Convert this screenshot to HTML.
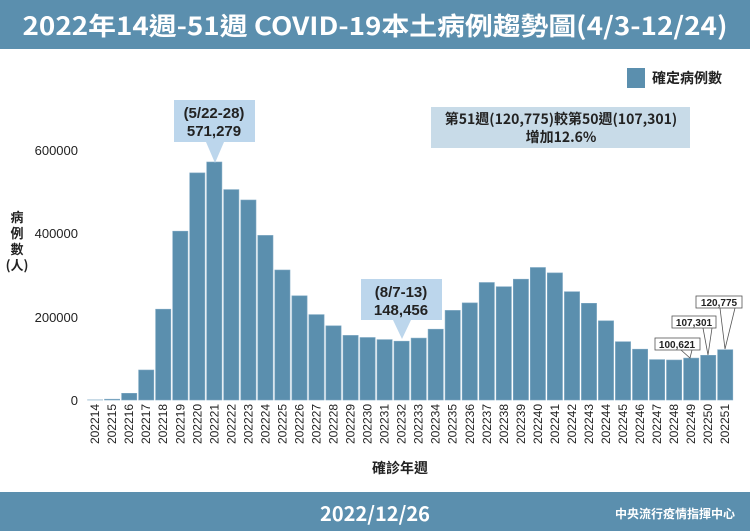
<!DOCTYPE html>
<html><head><meta charset="utf-8"><style>
html,body{margin:0;padding:0;background:#fff;}
svg{display:block;font-family:"Liberation Sans","Noto Sans CJK TC",sans-serif;}
</style></head><body>
<svg width="750" height="531" viewBox="0 0 750 531" xmlns="http://www.w3.org/2000/svg">
<rect x="0" y="0" width="750" height="49" fill="#5b8fae"/>
<text x="375" y="35" text-anchor="middle" font-size="25" font-weight="bold" fill="#fff" font-family="'Noto Sans CJK TC',sans-serif" textLength="705" lengthAdjust="spacingAndGlyphs">2022年14週-51週 COVID-19本土病例趨勢圖(4/3-12/24)</text>
<rect x="0" y="492" width="750" height="39" fill="#5b8fae"/>
<text x="375" y="521" text-anchor="middle" font-size="20" font-weight="bold" fill="#fff" font-family="'Noto Sans CJK TC',sans-serif">2022/12/26</text>
<text x="735" y="518" text-anchor="end" font-size="12" font-weight="bold" fill="#fff" font-family="'Noto Sans CJK TC',sans-serif">中央流行疫情指揮中心</text>
<rect x="627" y="68" width="18" height="20" fill="#5b8fae"/>
<text x="652" y="83" font-size="14" font-weight="bold" fill="#222" font-family="'Noto Sans CJK TC',sans-serif">確定病例數</text>
<g font-size="13" fill="#222" text-anchor="end">
<text x="78" y="155">600000</text><text x="78" y="238">400000</text><text x="78" y="322">200000</text><text x="78" y="405">0</text>
</g>
<g font-size="13" font-weight="bold" fill="#222" font-family="'Noto Sans CJK TC',sans-serif" text-anchor="middle">
<text x="17" y="222">病</text><text x="17" y="238">例</text><text x="17" y="254">數</text><text x="17" y="270">(人)</text>
<text x="400" y="473" font-size="14">確診年週</text>
</g>
<g fill="#5b8fae" stroke="#7fa9c4" stroke-width="0.6">
<rect x="87.5" y="399.9" width="15.2" height="0.1"/>
<rect x="104.5" y="399.2" width="15.2" height="0.8"/>
<rect x="121.6" y="393.3" width="15.2" height="6.7"/>
<rect x="138.6" y="370" width="15.2" height="30"/>
<rect x="155.6" y="309.2" width="15.2" height="90.8"/>
<rect x="172.7" y="231.2" width="15.2" height="168.8"/>
<rect x="189.7" y="172.9" width="15.2" height="227.1"/>
<rect x="206.7" y="162" width="15.2" height="238"/>
<rect x="223.7" y="189.6" width="15.2" height="210.4"/>
<rect x="240.8" y="200" width="15.2" height="200"/>
<rect x="257.8" y="235.4" width="15.2" height="164.6"/>
<rect x="274.8" y="270" width="15.2" height="130"/>
<rect x="291.9" y="295.8" width="15.2" height="104.2"/>
<rect x="308.9" y="314.6" width="15.2" height="85.4"/>
<rect x="325.9" y="325.8" width="15.2" height="74.2"/>
<rect x="343" y="335.4" width="15.2" height="64.6"/>
<rect x="360" y="337.5" width="15.2" height="62.5"/>
<rect x="377" y="339.6" width="15.2" height="60.4"/>
<rect x="394" y="341.2" width="15.2" height="58.8"/>
<rect x="411.1" y="338.1" width="15.2" height="61.9"/>
<rect x="428.1" y="329.2" width="15.2" height="70.8"/>
<rect x="445.1" y="310.4" width="15.2" height="89.6"/>
<rect x="462.2" y="302.9" width="15.2" height="97.1"/>
<rect x="479.2" y="282.5" width="15.2" height="117.5"/>
<rect x="496.2" y="286.7" width="15.2" height="113.3"/>
<rect x="513.3" y="279.2" width="15.2" height="120.8"/>
<rect x="530.3" y="267.5" width="15.2" height="132.5"/>
<rect x="547.3" y="272.9" width="15.2" height="127.1"/>
<rect x="564.4" y="291.7" width="15.2" height="108.3"/>
<rect x="581.4" y="303.3" width="15.2" height="96.7"/>
<rect x="598.4" y="320.8" width="15.2" height="79.2"/>
<rect x="615.4" y="341.7" width="15.2" height="58.3"/>
<rect x="632.5" y="349.2" width="15.2" height="50.8"/>
<rect x="649.5" y="359.6" width="15.2" height="40.4"/>
<rect x="666.5" y="360" width="15.2" height="40"/>
<rect x="683.6" y="358.1" width="15.2" height="41.9"/>
<rect x="700.6" y="355.3" width="15.2" height="44.7"/>
<rect x="717.6" y="349.7" width="15.2" height="50.3"/>
</g>
<g font-size="12" fill="#222" text-anchor="end">
<text transform="translate(99.1,404) rotate(-90)">202214</text>
<text transform="translate(116.1,404) rotate(-90)">202215</text>
<text transform="translate(133.2,404) rotate(-90)">202216</text>
<text transform="translate(150.2,404) rotate(-90)">202217</text>
<text transform="translate(167.2,404) rotate(-90)">202218</text>
<text transform="translate(184.3,404) rotate(-90)">202219</text>
<text transform="translate(201.3,404) rotate(-90)">202220</text>
<text transform="translate(218.3,404) rotate(-90)">202221</text>
<text transform="translate(235.3,404) rotate(-90)">202222</text>
<text transform="translate(252.4,404) rotate(-90)">202223</text>
<text transform="translate(269.4,404) rotate(-90)">202224</text>
<text transform="translate(286.4,404) rotate(-90)">202225</text>
<text transform="translate(303.5,404) rotate(-90)">202226</text>
<text transform="translate(320.5,404) rotate(-90)">202227</text>
<text transform="translate(337.5,404) rotate(-90)">202228</text>
<text transform="translate(354.6,404) rotate(-90)">202229</text>
<text transform="translate(371.6,404) rotate(-90)">202230</text>
<text transform="translate(388.6,404) rotate(-90)">202231</text>
<text transform="translate(405.6,404) rotate(-90)">202232</text>
<text transform="translate(422.7,404) rotate(-90)">202233</text>
<text transform="translate(439.7,404) rotate(-90)">202234</text>
<text transform="translate(456.7,404) rotate(-90)">202235</text>
<text transform="translate(473.8,404) rotate(-90)">202236</text>
<text transform="translate(490.8,404) rotate(-90)">202237</text>
<text transform="translate(507.8,404) rotate(-90)">202238</text>
<text transform="translate(524.9,404) rotate(-90)">202239</text>
<text transform="translate(541.9,404) rotate(-90)">202240</text>
<text transform="translate(558.9,404) rotate(-90)">202241</text>
<text transform="translate(576,404) rotate(-90)">202242</text>
<text transform="translate(593,404) rotate(-90)">202243</text>
<text transform="translate(610,404) rotate(-90)">202244</text>
<text transform="translate(627,404) rotate(-90)">202245</text>
<text transform="translate(644.1,404) rotate(-90)">202246</text>
<text transform="translate(661.1,404) rotate(-90)">202247</text>
<text transform="translate(678.1,404) rotate(-90)">202248</text>
<text transform="translate(695.2,404) rotate(-90)">202249</text>
<text transform="translate(712.2,404) rotate(-90)">202250</text>
<text transform="translate(729.2,404) rotate(-90)">202251</text>
</g>
<path d="M174,100 H255 V142 H224 L215,163 L206,142 H174 Z" fill="#bcd6ec"/>
<text x="214" y="118" text-anchor="middle" font-size="15" font-weight="bold" fill="#222">(5/22-28)</text>
<text x="214" y="136" text-anchor="middle" font-size="15" font-weight="bold" fill="#222">571,279</text>
<path d="M361,279 H442 V320 H411 L402,339 L393,320 H361 Z" fill="#bcd6ec"/>
<text x="401" y="297" text-anchor="middle" font-size="15" font-weight="bold" fill="#222">(8/7-13)</text>
<text x="401" y="315" text-anchor="middle" font-size="15" font-weight="bold" fill="#222">148,456</text>
<rect x="431" y="107" width="259" height="41" fill="#c8dbe8"/>
<text x="561" y="124" text-anchor="middle" font-size="14" font-weight="bold" fill="#222" font-family="'Noto Sans CJK TC',sans-serif">第51週(120,775)較第50週(107,301)</text>
<text x="561" y="142" text-anchor="middle" font-size="14" font-weight="bold" fill="#222" font-family="'Noto Sans CJK TC',sans-serif">增加12.6%</text>
<g stroke="#555" stroke-width="0.8" fill="#fff">
<rect x="655" y="338" width="45" height="12"/><rect x="672" y="316" width="44" height="12"/><rect x="696" y="296" width="46" height="12"/>
<path d="M681,350 L690,358 L692,350" fill="none"/>
<path d="M703,328 L708,355 L712,328" fill="none"/>
<path d="M720,308 L725,349 L735,308" fill="none"/>
</g>
<g font-size="10" font-weight="bold" fill="#222" text-anchor="middle">
<text x="677" y="348">100,621</text><text x="694" y="326">107,301</text><text x="719" y="306">120,775</text>
</g>
</svg>
</body></html>
